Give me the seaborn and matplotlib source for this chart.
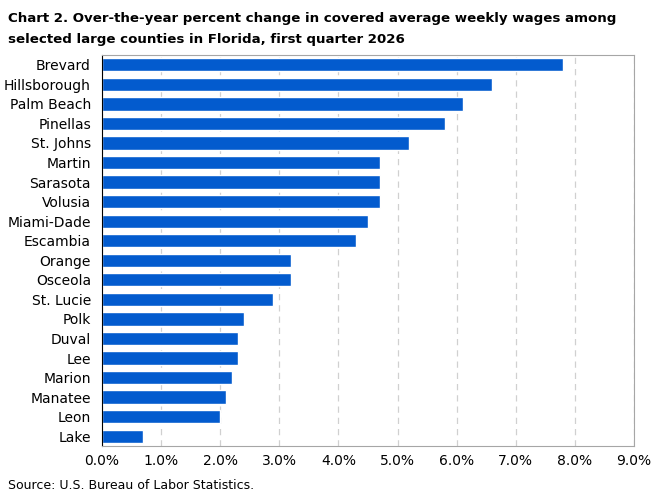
import matplotlib
matplotlib.use('Agg')
import matplotlib.pyplot as plt
import seaborn as sns
from matplotlib.ticker import FuncFormatter

counties = ['Brevard', 'Hillsborough', 'Palm Beach', 'Pinellas', 'St. Johns', 'Martin',
            'Sarasota', 'Volusia', 'Miami-Dade', 'Escambia', 'Orange', 'Osceola',
            'St. Lucie', 'Polk', 'Duval', 'Lee', 'Marion', 'Manatee', 'Leon', 'Lake']
pct_change = [7.8, 6.6, 6.1, 5.8, 5.2, 4.7, 4.7, 4.7, 4.5, 4.3, 3.2, 3.2,
              2.9, 2.4, 2.3, 2.3, 2.2, 2.1, 2.0, 0.7]

sns.set_style('white')
plt.rcParams['font.family'] = ['DejaVu Sans']
plt.rcParams['text.color'] = 'black'
plt.rcParams['xtick.color'] = 'black'
plt.rcParams['ytick.color'] = 'black'

fig = plt.figure(figsize=(6.6, 4.94), dpi=100)
ax = fig.add_axes([102 / 660, 1 - 446 / 494, 532 / 660, 391 / 494])
sns.barplot(x=pct_change, y=counties, color='#035BCE', width=0.68, ax=ax, saturation=1)

ax.set_xlim(0, 9)
ax.set_xticks(range(0, 10))
ax.xaxis.set_major_formatter(FuncFormatter(lambda v, p: f'{v:.1f}%'))
ax.grid(axis='x', color='#d0d0d0', linestyle=(0, (5, 4)), linewidth=0.9)
ax.set_axisbelow(True)
for s in ['top', 'right', 'bottom']:
    ax.spines[s].set_color('#a6a6a6')
ax.spines['left'].set_color('black')
ax.tick_params(axis='both', length=0, labelsize=10, pad=6)
ax.tick_params(axis='y', pad=8)
ax.set_xlabel('')
ax.set_ylabel('')

fig.text(0.012, 0.975, 'Chart 2. Over-the-year percent change in covered average weekly wages among\n'
         'selected large counties in Florida, first quarter 2026',
         fontsize=9.6, fontweight='bold', va='top', ha='left', linespacing=1.75)
fig.text(0.012, 0.005, 'Source: U.S. Bureau of Labor Statistics.', fontsize=9, va='bottom', ha='left')

fig.savefig('out.png', dpi=100)
